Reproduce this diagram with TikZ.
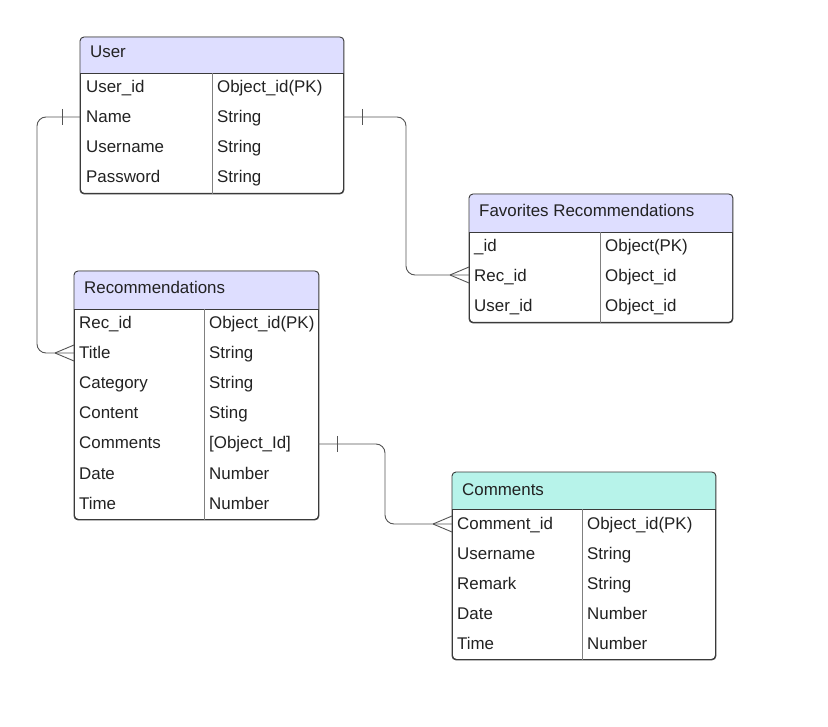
\documentclass[tikz,border=0pt]{standalone}
\usepackage{fontspec}
\setmainfont{Liberation Sans}
\usetikzlibrary{calc}
\definecolor{hdrblue}{HTML}{DEDEFF}
\definecolor{hdrteal}{HTML}{B7F3EA}
\definecolor{edge}{HTML}{3A3A3A}
\definecolor{divider}{HTML}{808080}
\definecolor{txt}{HTML}{222222}
\definecolor{relline}{HTML}{555555}
\tikzset{
  x=1pt, y=-1pt,
  tablebox/.style={draw=edge, line width=0.9pt, rounded corners=4pt, inner sep=0pt, anchor=north west},
  cell/.style={font=\fontsize{16.9}{18}\selectfont, text=txt, anchor=base west, inner sep=0pt},
  rel/.style={draw=relline, line width=0.9pt, rounded corners=9pt},
  endmark/.style={draw=relline, line width=0.9pt},
}
% draw one entity table: #1 name, #2 x, #3 y, #4 width, #5 header height, #6 rows, #7 divider offset, #8 header colour
\newcommand{\erbox}[8]{%
  \node[tablebox, minimum width=#4pt, minimum height={#5pt+30pt*#6}] (#1) at (#2,#3) {};
  \begin{scope}
    \clip[rounded corners=4pt] (#1.north west) rectangle (#1.south east);
    \fill[#8] (#1.north west) rectangle ($(#1.north east)+(0,#5)$);
  \end{scope}
  \draw[edge, line width=0.9pt, rounded corners=4pt] (#1.north west) rectangle (#1.south east);
  \draw[edge, line width=0.9pt] ($(#1.north west)+(0,#5)$) -- ($(#1.north east)+(0,#5)$);
  \draw[divider, line width=0.9pt] ($(#1.north west)+(#7,#5)$) -- ($(#1.south west)+(#7,0)$);
}
\begin{document}
\begin{tikzpicture}
\useasboundingbox[fill=white] (0,0) rectangle (828,727);

% ---------- User ----------
\erbox{user}{80}{37}{263}{36}{4}{132}{hdrblue}
\node[cell] at (90,58) {User};
\node[cell] (u1) at (86,93) {User\_id};     \node[cell] at (217,93) {Object\_id(PK)};
\node[cell] (u2) at (86,123) {Name};        \node[cell] at (217,123) {String};
\node[cell] (u3) at (86,153) {Username};    \node[cell] at (217,153) {String};
\node[cell] (u4) at (86,183) {Password};    \node[cell] at (217,183) {String};
\coordinate (uL) at (80,117);
\coordinate (uR) at (343,117);

% ---------- Favorites Recommendations ----------
\erbox{fav}{469}{194}{263}{38}{3}{131}{hdrblue}
\node[cell] at (479,217) {Favorites Recommendations};
\node[cell] (f1) at (474,252) {\_id};       \node[cell] at (605,252) {Object(PK)};
\node[cell] (f2) at (474,282) {Rec\_id};    \node[cell] at (605,282) {Object\_id};
\node[cell] (f3) at (474,312) {User\_id};   \node[cell] at (605,312) {Object\_id};
\coordinate (fL) at (469,275);

% ---------- Recommendations ----------
\erbox{rec}{74}{271}{244}{38}{7}{130}{hdrblue}
\node[cell] at (84,294) {Recommendations};
\node[cell] (r1) at (79,329) {Rec\_id};     \node[cell] at (209,329) {Object\_id(PK)};
\node[cell] (r2) at (79,359) {Title};       \node[cell] at (209,359) {String};
\node[cell] (r3) at (79,389) {Category};    \node[cell] at (209,389) {String};
\node[cell] (r4) at (79,419) {Content};     \node[cell] at (209,419) {Sting};
\node[cell] (r5) at (79,449) {Comments};    \node[cell] at (209,449) {[Object\_Id]};
\node[cell] (r6) at (79,479) {Date};        \node[cell] at (209,479) {Number};
\node[cell] (r7) at (79,509) {Time};        \node[cell] at (209,509) {Number};
\coordinate (rL) at (74,353);
\coordinate (rR) at (318,444);

% ---------- Comments ----------
\erbox{com}{452}{472}{263}{37}{5}{130}{hdrteal}
\node[cell] at (462,495) {Comments};
\node[cell] (c1) at (457,529) {Comment\_id}; \node[cell] at (587,529) {Object\_id(PK)};
\node[cell] (c2) at (457,559) {Username};    \node[cell] at (587,559) {String};
\node[cell] (c3) at (457,589) {Remark};      \node[cell] at (587,589) {String};
\node[cell] (c4) at (457,619) {Date};        \node[cell] at (587,619) {Number};
\node[cell] (c5) at (457,649) {Time};        \node[cell] at (587,649) {Number};
\coordinate (cL) at (452,524);

% ---------- relationships ----------
% User.Name -> Recommendations.Title (one to many)
\draw[rel] (uL) -- (37,117) -- (37,353) -- (rL);
\draw[endmark] ($(uL)+(-18,-8)$) -- ($(uL)+(-18,8)$);
\draw[endmark] ($(rL)+(-19,0)$) -- ($(rL)+(0,-8)$);
\draw[endmark] ($(rL)+(-19,0)$) -- ($(rL)+(0,8)$);

% User.Name -> Favorites.Rec_id (one to many)
\draw[rel] (uR) -- (406,117) -- (406,275) -- (fL);
\draw[endmark] ($(uR)+(19,-8)$) -- ($(uR)+(19,8)$);
\draw[endmark] ($(fL)+(-19,0)$) -- ($(fL)+(0,-8)$);
\draw[endmark] ($(fL)+(-19,0)$) -- ($(fL)+(0,8)$);

% Recommendations.Comments -> Comments.Comment_id (one to many)
\draw[rel] (rR) -- (385,444) -- (385,524) -- (cL);
\draw[endmark] ($(rR)+(19,-8)$) -- ($(rR)+(19,8)$);
\draw[endmark] ($(cL)+(-19,0)$) -- ($(cL)+(0,-8)$);
\draw[endmark] ($(cL)+(-19,0)$) -- ($(cL)+(0,8)$);
\end{tikzpicture}
\end{document}
